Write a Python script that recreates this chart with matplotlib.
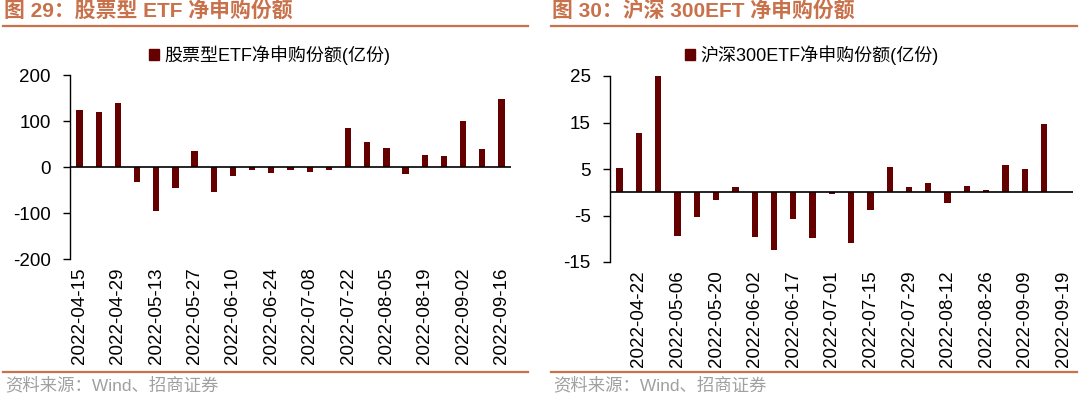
import numpy as np
import matplotlib
matplotlib.use('Agg')
import matplotlib.pyplot as plt
from matplotlib.patches import Patch
from matplotlib.lines import Line2D

plt.rcParams['font.family'] = ['Liberation Sans', 'Noto Sans CJK SC', 'DejaVu Sans']

# Panel 29: stock ETF net subscription (100m shares)
dates_left = ['2022-04-15', '2022-04-22', '2022-04-29', '2022-05-06', '2022-05-13',
              '2022-05-20', '2022-05-27', '2022-06-02', '2022-06-10', '2022-06-17',
              '2022-06-24', '2022-07-01', '2022-07-08', '2022-07-15', '2022-07-22',
              '2022-07-29', '2022-08-05', '2022-08-12', '2022-08-19', '2022-08-26',
              '2022-09-02', '2022-09-09', '2022-09-16']
values_left = [123, 119, 139, -32, -95, -45, 35, -55, -20, -7, -14, -6,
               -10, -6, 85, 54, 42, -16, 27, 24, 100, 40, 147]

# Panel 30: CSI 300 ETF net subscription (100m shares)
dates_right = dates_left + ['2022-09-19']
values_right = [5.3, 12.7, 25.0, -9.5, -5.4, -1.7, 1.2, -9.6, -12.4, -5.8, -9.9, -0.3,
                -10.9, -3.8, 5.5, 1.1, 1.9, -2.4, 1.4, 0.5, 5.9, 5.1, 14.6, np.nan]

bar_color = '#650000'
accent = '#C8714A'
W, H = 1080, 398

fig = plt.figure(figsize=(W / 100, H / 100), dpi=100)


def px_axes(left, right, top, bottom):
    return fig.add_axes([left / W, 1 - bottom / H, (right - left) / W, (bottom - top) / H])


def draw_panel(ax, dates, values, label_start, ylim, yticks):
    x = np.arange(len(dates))
    ax.bar(x, values, width=0.33, color=bar_color)
    ax.axhline(0, color='black', lw=1.2, zorder=3)
    ax.set_xlim(-0.5, len(dates) - 0.5)
    ax.set_ylim(*ylim)
    ax.set_yticks(yticks)
    ax.set_yticklabels([str(t) for t in yticks])
    shown = list(range(label_start, len(dates), 2))
    ax.set_xticks(shown)
    ax.set_xticklabels([dates[i] for i in shown], rotation=90, fontsize=13.5)
    ax.tick_params(axis='x', length=0, pad=6)
    ax.tick_params(axis='y', length=5, width=1, direction='out', pad=9, labelsize=13.5)
    for s in ['top', 'right', 'bottom']:
        ax.spines[s].set_visible(False)
    ax.spines['left'].set_linewidth(1)


ax1 = px_axes(70, 511, 75, 259)
draw_panel(ax1, dates_left, values_left, 0, (-200, 200), [-200, -100, 0, 100, 200])

ax2 = px_axes(610, 1073, 76, 262)
draw_panel(ax2, dates_right, values_right, 1, (-15, 25), [-15, -5, 5, 15, 25])

# legends
for cx, text in [(270, '股票型ETF净申购份额(亿份)'), (812, '沪深300ETF净申购份额(亿份)')]:
    fig.legend(handles=[Patch(color=bar_color)], labels=[text], loc='center',
               bbox_to_anchor=(cx / W, 1 - 55 / H), frameon=False, fontsize=13,
               handlelength=0.55, handleheight=0.55, handletextpad=0.3)

# titles, rules and source notes
for x0, x1, title in [(3, 528, '图 29：股票型 ETF 净申购份额'),
                      (551, 1077, '图 30：沪深 300EFT 净申购份额')]:
    fig.text((x0 + 1) / W, 1 - 12 / H, title, color=accent, fontsize=15,
             fontweight='bold', va='center', ha='left')
    fig.add_artist(Line2D([x0 / W, x1 / W], [1 - 26 / H] * 2, color=accent, lw=1.6))
    fig.add_artist(Line2D([x0 / W, x1 / W], [1 - 372 / H] * 2, color=accent, lw=1.6))
    fig.text((x0 + 2) / W, 1 - 385 / H, '资料来源：Wind、招商证券', color='#A0A0A0',
             fontsize=12.5, va='center', ha='left')

fig.savefig('out.png', dpi=100)
